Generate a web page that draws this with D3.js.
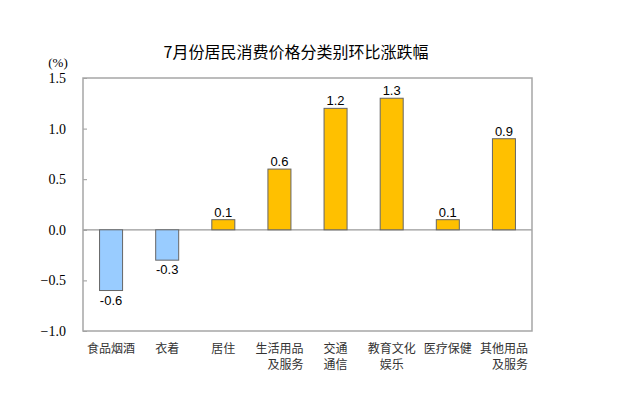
<!DOCTYPE html>
<html lang="zh">
<head>
<meta charset="UTF-8" />
<title>7月份居民消费价格分类别环比涨跌幅</title>
<style>
  body { margin: 0; background: #fff; }
  svg { display: block; }
</style>
</head>
<body>
<svg id="chart" width="619" height="393"></svg>
<script src="https://d3js.org/d3.v7.min.js"></script>
<script>
// data
const categories = [
  ["食品烟酒"],
  ["衣着"],
  ["居住"],
  ["生活用品", "\u3000及服务"],
  ["交通", "通信"],
  ["教育文化", "娱乐"],
  ["医疗保健"],
  ["其他用品", "\u3000及服务"]
];
const values = [-0.6, -0.3, 0.1, 0.6, 1.2, 1.3, 0.1, 0.9];
const yTicks = [-1.0, -0.5, 0.0, 0.5, 1.0, 1.5];
const title = "7月份居民消费价格分类别环比涨跌幅";
const unit = "(%)";

const svg = d3.select("#chart");
const margin = { left: 83, right: 87, top: 78, bottom: 62 };
const width = +svg.attr("width");
const height = +svg.attr("height");

const x = d3.scaleBand()
  .domain(d3.range(values.length))
  .range([margin.left, width - margin.right])
  .paddingInner(0.59)
  .paddingOuter(0.295);

const y = d3.scaleLinear()
  .domain([-1.0, 1.5])
  .range([height - margin.bottom, margin.top]);

const cjk = "'Noto Sans CJK SC', 'Noto Sans', sans-serif";

// title
svg.append("text")
  .attr("x", 296)
  .attr("y", 58)
  .attr("text-anchor", "middle")
  .style("font-family", cjk)
  .style("font-size", "16px")
  .style("fill", "#000")
  .text(title);

// unit label
svg.append("text")
  .attr("x", 58)
  .attr("y", 67)
  .attr("text-anchor", "middle")
  .style("font-family", "'Liberation Serif', serif")
  .style("font-size", "13px")
  .text(unit);

// y axis (ticks point inward)
const yAxis = d3.axisLeft(y)
  .tickValues(yTicks)
  .tickFormat(d3.format(".1f"))
  .tickSize(-4)
  .tickPadding(17);

const gy = svg.append("g")
  .attr("transform", `translate(${margin.left},0)`)
  .call(yAxis);
gy.select(".domain").remove();
gy.selectAll("line").attr("stroke", "#999");
gy.selectAll("text")
  .style("font-family", "'Liberation Serif', serif")
  .style("font-size", "14px")
  .style("fill", "#000");

// zero line
svg.append("line")
  .attr("x1", margin.left)
  .attr("x2", width - margin.right)
  .attr("y1", y(0))
  .attr("y2", y(0))
  .attr("stroke", "#999")
  .attr("stroke-width", 1.2);

// bars
svg.append("g")
  .selectAll("rect")
  .data(values)
  .join("rect")
  .attr("x", (d, i) => x(i))
  .attr("width", x.bandwidth())
  .attr("y", d => y(Math.max(0, d)))
  .attr("height", d => Math.abs(y(d) - y(0)))
  .attr("fill", d => d < 0 ? "#99CCFF" : "#FFC000")
  .attr("stroke", "#666")
  .attr("stroke-width", 1);

// value labels
svg.append("g")
  .selectAll("text")
  .data(values)
  .join("text")
  .attr("x", (d, i) => x(i) + x.bandwidth() / 2)
  .attr("y", d => d < 0 ? y(d) + 14 : y(d) - 3)
  .attr("text-anchor", "middle")
  .style("font-family", "'Liberation Sans', Arial, sans-serif")
  .style("font-size", "13px")
  .style("fill", "#000")
  .text(d => d.toFixed(1));

// plot frame
svg.append("rect")
  .attr("x", margin.left)
  .attr("y", margin.top)
  .attr("width", width - margin.left - margin.right)
  .attr("height", height - margin.top - margin.bottom)
  .attr("fill", "none")
  .attr("stroke", "#a6a6a6")
  .attr("stroke-width", 1.5);

// category labels
const cat = svg.append("g")
  .selectAll("text")
  .data(categories)
  .join("text")
  .attr("x", (d, i) => x(i) + x.bandwidth() / 2)
  .attr("y", 353)
  .attr("text-anchor", "middle")
  .style("font-family", cjk)
  .style("font-size", "12px")
  .style("fill", "#333");

cat.selectAll("tspan")
  .data(d => d)
  .join("tspan")
  .attr("x", function () { return this.parentNode.getAttribute("x"); })
  .attr("dy", (d, i) => i === 0 ? 0 : 16)
  .text(d => d);
</script>
</body>
</html>
